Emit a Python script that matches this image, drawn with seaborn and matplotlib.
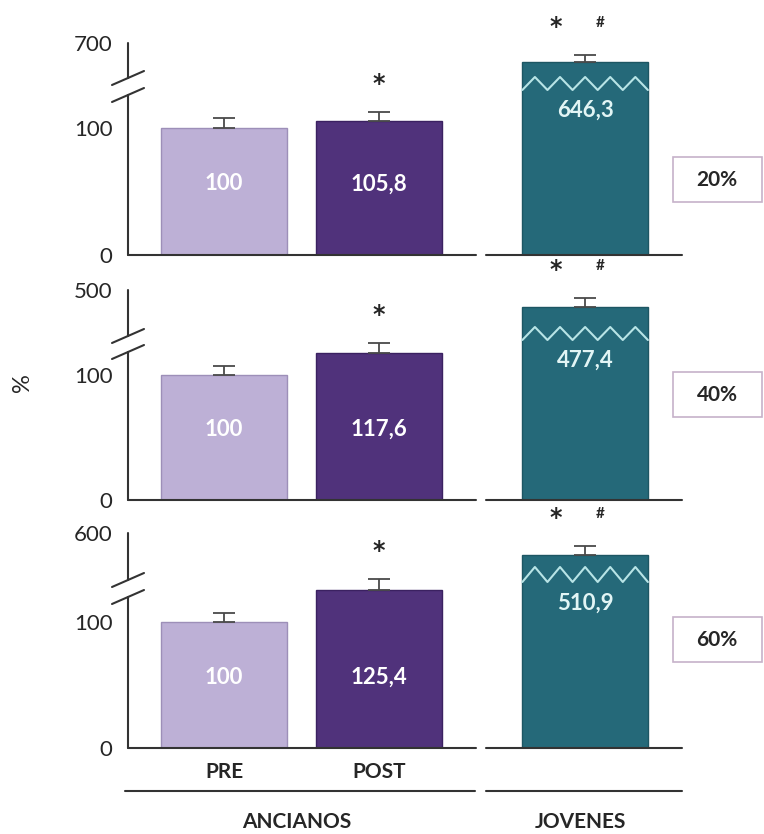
import numpy as np
import pandas as pd
import matplotlib
matplotlib.use("Agg")
import matplotlib.pyplot as plt
import matplotlib.transforms as mtransforms
from matplotlib.patches import Rectangle
from matplotlib.lines import Line2D
import seaborn as sns

sns.set_style("white")
plt.rcParams["font.family"] = ["Lato", "DejaVu Sans"]

# ---- data ----
groups = ["PRE", "POST", "JOVENES"]
intensities = ["20%", "40%", "60%"]
pre_vals = [100, 100, 100]
post_vals = [105.8, 117.6, 125.4]
jov_vals = [646.3, 477.4, 510.9]
pre_err = [8, 7, 7]
post_err = [7, 8, 9]
jov_err = [20, 12, 36]
axis_tops = [700, 500, 600]
xpos = [0, 1, 2.33]

colors = ["#bdb0d6", "#50327b", "#256979"]
edges = ["#9d8fb8", "#3b2161", "#1d5663"]
ink = "#262626"

# ---- layout (pixels of a 764x834 canvas) ----
W, H = 764, 834
base_px = [255, 500, 748]          # baseline of each panel
px_per_unit = [1.27, 1.25, 1.26]   # lower (0-100) part of the scale
lin_top = [125, 128, 136]          # end of the linear lower part
brk_px = [177, 166, 176]           # pixel height where the upper part starts
up_start = [601, 441, 442]         # value where the upper part starts
top_px = [212, 210, 215]           # axis height in pixels
spine_lo = [160, 148, 151]
spine_hi = [177, 164, 168]
zig_px = [(165, 178), (160, 173), (166, 181)]
pre_lab_px = 71
jov_lab_px = [145, 140, 145]
box_cy = [180, 395, 640]

ax_left, ax_right = 128, 682


def fx(x):
    return x / W


def fy(y):
    return 1 - y / H


def make_scale(s, L, pxu, U, T, pxt):
    su = (pxt - pxu) / (T - U)
    xp = np.array([-1e4, 0, L, U, T, T + 1e4])
    fp = np.array([-1e4 * s, 0, L * s, pxu, pxt, pxt + 1e4 * su])
    fwd = lambda v: np.interp(v, xp, fp)
    inv = lambda p: np.interp(p, fp, xp)
    return fwd, inv


fig = plt.figure(figsize=(W / 100, H / 100), dpi=100)

for i in range(3):
    T = axis_tops[i]
    pxt = top_px[i]
    ax = fig.add_axes([fx(ax_left), (H - base_px[i]) / H,
                       (ax_right - ax_left) / W, pxt / H])
    fwd, inv = make_scale(px_per_unit[i], lin_top[i], brk_px[i],
                          up_start[i], T, pxt)
    ax.set_yscale("function", functions=(fwd, inv))

    vals = [pre_vals[i], post_vals[i], jov_vals[i]]
    errs = [pre_err[i], post_err[i], jov_err[i]]
    df = pd.DataFrame({"pos": xpos, "val": vals, "grp": groups})
    sns.barplot(data=df, x="pos", y="val", hue="grp", hue_order=groups,
                palette=colors, saturation=1, native_scale=True, width=0.81,
                dodge=False, legend=False, ax=ax, linewidth=1.0)
    for p, g in zip(ax.patches, groups):
        p.set_edgecolor(edges[groups.index(g)])

    ax.errorbar(xpos, vals, yerr=[np.zeros(3), errs], fmt="none",
                ecolor="#4a4a4a", elinewidth=1.3, capsize=8, capthick=1.3,
                zorder=3)

    ax.set_xlim(-0.619, 2.955)
    ax.set_ylim(0, T)
    ax.set_yticks([0, 100, T])
    ax.set_yticklabels(["0", "100", str(T)])
    ax.tick_params(axis="y", length=0, pad=11, labelsize=16, colors=ink)
    if i == 2:
        ax.set_xticks([0, 1])
        ax.set_xticklabels(["PRE", "POST"], fontweight="bold")
        ax.tick_params(axis="x", length=0, pad=10, labelsize=15, colors=ink)
    else:
        ax.set_xticks([])
    ax.set_xlabel("")
    ax.set_ylabel("")
    sns.despine(ax=ax, left=True, bottom=True)

    blend = mtransforms.blended_transform_factory(ax.transData, ax.transAxes)

    # broken left axis
    kw = dict(transform=ax.transAxes, color="#333333", lw=1.5, clip_on=False)
    ax.plot([0, 0], [0, spine_lo[i] / pxt], **kw)
    ax.plot([0, 0], [spine_hi[i] / pxt, 1], **kw)
    dx, dy = 16 / (ax_right - ax_left), 7 / pxt
    for c in (spine_lo[i], spine_hi[i]):
        ax.plot([-dx, dx], [c / pxt - dy, c / pxt + dy], **kw)
    # split baseline
    ax.plot([0, (476 - ax_left) / (ax_right - ax_left)], [0, 0], **kw)
    ax.plot([(486 - ax_left) / (ax_right - ax_left), 1], [0, 0], **kw)

    # zigzag break on the tall bar
    half = 0.405
    zx = np.linspace(xpos[2] - half, xpos[2] + half, 11)
    zlo, zhi = zig_px[i]
    zy = np.where(np.arange(11) % 2 == 0, zlo, zhi) / pxt
    ax.plot(zx, zy, transform=blend, color="#b8e4e6", lw=1.5, zorder=4)

    # values inside bars
    lab = lambda v: f"{v:g}".replace(".", ",")
    for k in range(2):
        ax.text(xpos[k], pre_lab_px / pxt, lab(vals[k]), transform=blend,
                ha="center", va="center", color="white", fontsize=16,
                fontweight="bold", zorder=5)
    ax.text(xpos[2], jov_lab_px[i] / pxt, lab(vals[2]), transform=blend,
            ha="center", va="center", color="#e2f5f5", fontsize=16,
            fontweight="bold", zorder=5)

    # significance marks
    ax.annotate("*", xy=(xpos[1], vals[1] + errs[1]), xytext=(0, 20),
                textcoords="offset points", ha="center", va="center",
                fontsize=17, fontweight="bold", color=ink,
                family="DejaVu Sans", annotation_clip=False)
    ax.annotate("*", xy=(xpos[2], vals[2] + errs[2]), xytext=(-21, 20),
                textcoords="offset points", ha="center", va="center",
                fontsize=17, fontweight="bold", color=ink,
                family="DejaVu Sans", annotation_clip=False)
    ax.annotate("#", xy=(xpos[2], vals[2] + errs[2]), xytext=(11, 23),
                textcoords="offset points", ha="center", va="center",
                fontsize=11, fontweight="bold", color=ink,
                annotation_clip=False)

    # intensity box on the right
    fig.add_artist(Rectangle((fx(673), fy(box_cy[i] + 22)), 89 / W, 45 / H,
                             transform=fig.transFigure, fill=False,
                             edgecolor="#c6b2c9", lw=1.2))
    fig.text(fx(717), fy(box_cy[i]), intensities[i], ha="center",
             va="center", fontsize=15, fontweight="bold", color=ink)

# group underline and labels
for x0, x1 in [(125, 475), (486, 682)]:
    fig.add_artist(Line2D([fx(x0), fx(x1)], [fy(791), fy(791)],
                          transform=fig.transFigure, color="#333333", lw=1.5))
fig.text(fx(297), fy(822), "ANCIANOS", ha="center", va="center",
         fontsize=15, fontweight="bold", color=ink)
fig.text(fx(580), fy(822), "JOVENES", ha="center", va="center",
         fontsize=15, fontweight="bold", color=ink)
fig.text(fx(22), fy(383), "%", ha="center", va="center", rotation=90,
         fontsize=17, color=ink)

fig.savefig("out.png", dpi=100)
